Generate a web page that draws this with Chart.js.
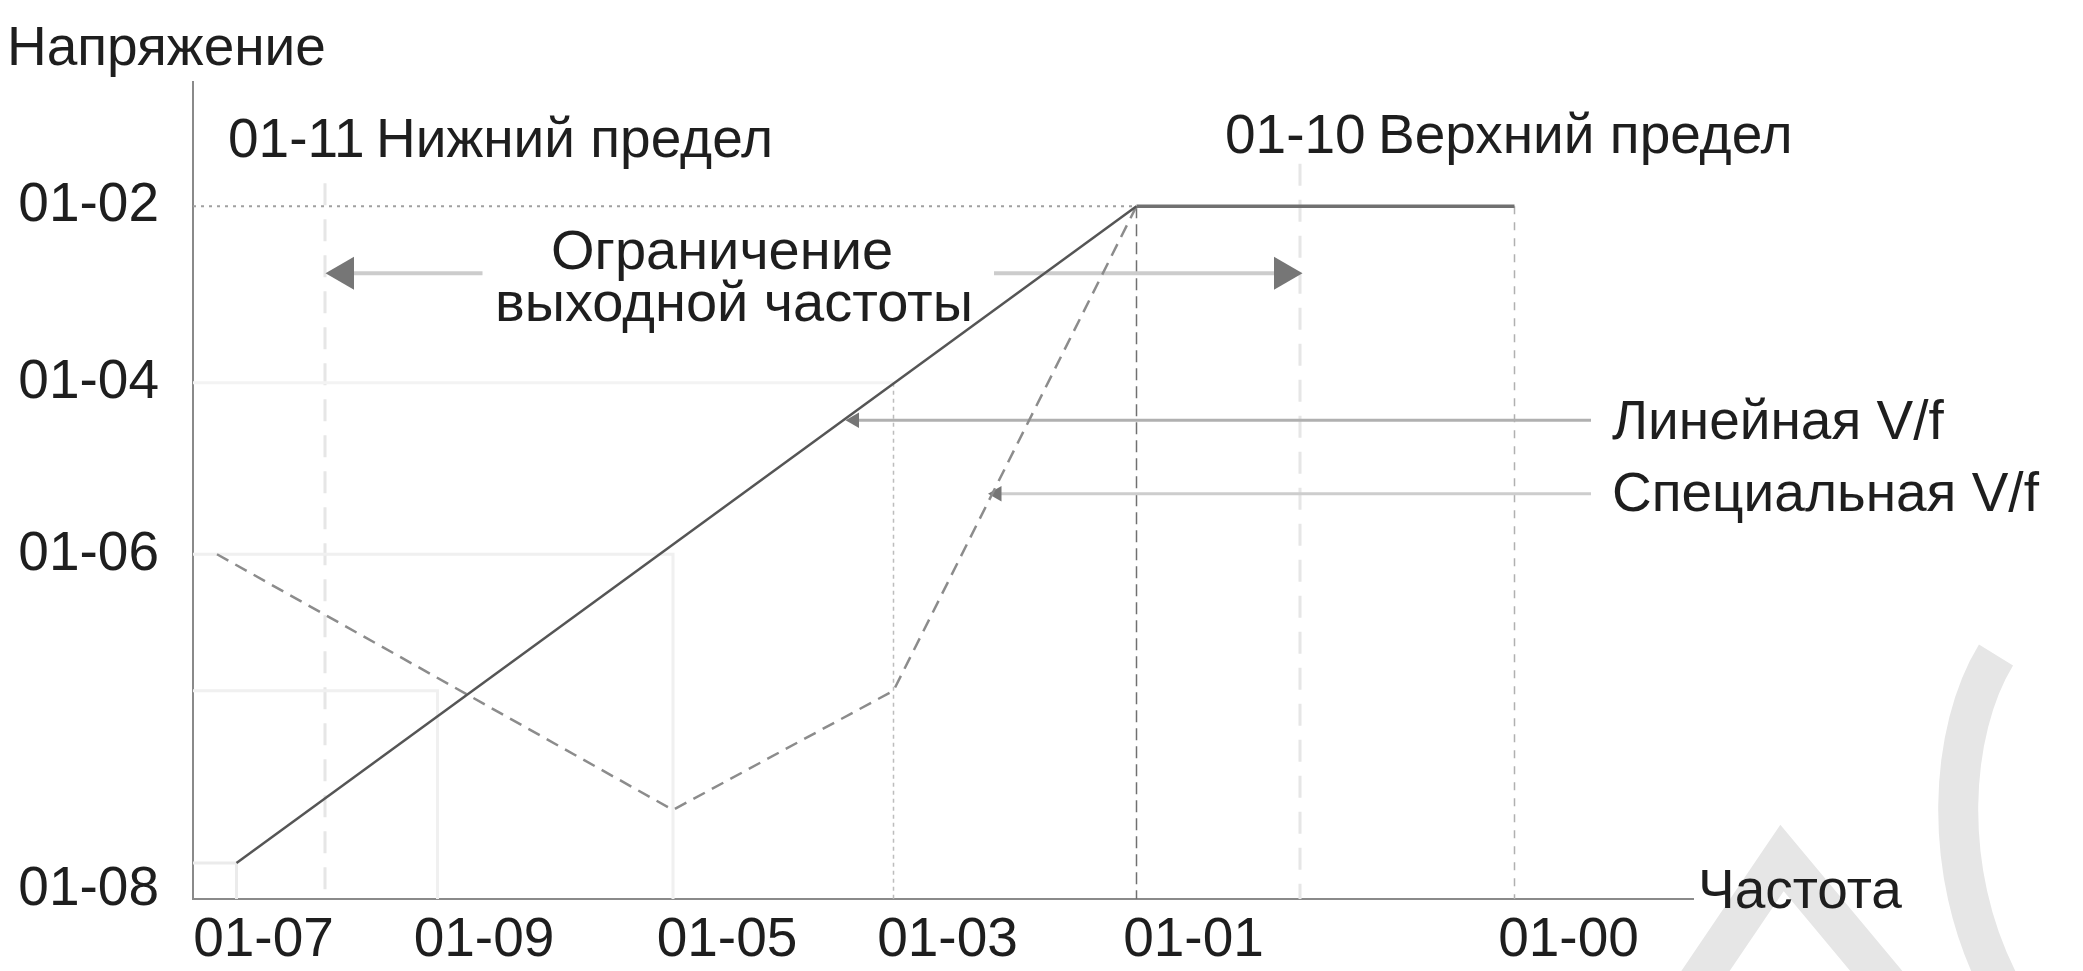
<!DOCTYPE html>
<html>
<head>
<meta charset="utf-8">
<script src="https://cdn.jsdelivr.net/npm/chart.js"></script>
<style>
  html, body { margin: 0; padding: 0; background: #fff; }
  #wrap { position: relative; width: 2083px; height: 971px; }
</style>
</head>
<body>
<div id="wrap"><canvas id="vf"></canvas></div>
<script>
const FONT = '"Liberation Sans", Arial, Helvetica, sans-serif';
const INK = '#1e1e1e';

// axis tick labels and where they sit
const xTickLabels = ['01-07', '01-09', '01-05', '01-03', '01-01', '01-00'];
const xTickAt = [4.7, 19.4, 35.6, 50.3, 66.7, 91.7];
const yTickLabels = ['01-02', '01-04', '01-06', '01-08'];
const yTickAt = [84.9, 63.2, 42.1, 1.1];

// linear V/f
const linearX = [2.9, 62.9, 88.1];
const linearY = [4.4, 84.8, 84.8];
// special V/f (dashed)
const specialX = [1.6, 32.0, 46.7, 62.9];
const specialY = [42.2, 10.9, 25.5, 84.8];

// reference lines
const g0102X = [0, 62.9],        g0102Y = [84.8, 84.8];
const g0101X = [62.9, 62.9],     g0101Y = [84.8, 0];
const g0100X = [88.1, 88.1],     g0100Y = [84.8, 0];
const g0104X = [0, 46.7],        g0104Y = [63.2, 63.2];
const g0103X = [46.7, 46.7],     g0103Y = [63.2, 0];
const g0105X = [0, 32.0, 32.0],  g0105Y = [42.2, 42.2, 0];
const g0109X = [0, 16.3, 16.3],  g0109Y = [25.5, 25.5, 0];
const g0107X = [0, 2.9, 2.9],    g0107Y = [4.4, 4.4, 0];
const g0111X = [8.8, 8.8],       g0111Y = [87.6, 0];
const g0110X = [73.8, 73.8],     g0110Y = [90.0, 0];

// arrows (tail, head)
const arrLowX = [19.3, 10.1],  arrLowY = [76.6, 76.6];
const arrHighX = [53.4, 72.7], arrHighY = [76.6, 76.6];
const arrLinX = [93.2, 44.1],  arrLinY = [58.6, 58.6];
const arrSpecX = [93.2, 53.6], arrSpecY = [49.6, 49.6];

const pts = (xs, ys) => xs.map((x, i) => ({x: x, y: ys[i]}));

function line(xs, ys, color, width, dash) {
    return {
        data: pts(xs, ys),
        showLine: true,
        borderColor: color,
        borderWidth: width,
        borderDash: dash || [],
        pointRadius: 0,
        tension: 0
    };
}

function arrow(xs, ys, lineColor, width, headSize, rot) {
    return {
        data: pts(xs, ys),
        showLine: true,
        borderColor: lineColor,
        borderWidth: width,
        pointRadius: [0, headSize],
        pointStyle: 'triangle',
        rotation: [0, rot],
        pointBackgroundColor: '#767676',
        pointBorderWidth: 0,
        tension: 0
    };
}

const linear = line(linearX, linearY, '#555555', 2.5);
// the flat part above the base frequency is drawn heavier
linear.segment = {
    borderWidth: (s) => (s.p0DataIndex === 1 ? 3.5 : 2.5),
    borderColor: (s) => (s.p0DataIndex === 1 ? '#707070' : '#555555')
};

const textPlugin = {
    id: 'texts',
    beforeDatasetsDraw(chart) {
        // faint logo watermark in the corner
        const c = chart.ctx;
        c.save();
        c.strokeStyle = '#e6e6e6';
        c.lineWidth = 40;
        c.beginPath();
        c.moveTo(1996, 655);
        c.bezierCurveTo(1950, 730, 1940, 870, 2000, 985);
        c.stroke();
        c.beginPath();
        c.moveTo(1696, 985);
        c.lineTo(1782, 858);
        c.lineTo(1888, 985);
        c.stroke();
        c.restore();
    },
    afterDraw(chart) {
        const c = chart.ctx;
        c.save();
        c.fillStyle = INK;
        c.font = '55px ' + FONT;
        c.textBaseline = 'middle';
        c.textAlign = 'left';
        c.fillText('Напряжение', 7, 50);
        c.fillText('01-11', 228, 142);
        c.fillText('Нижний предел', 376, 142);
        c.fillText('01-10', 1225, 138);
        c.fillText('Верхний предел', 1378, 138);
        c.fillText('Линейная V/f', 1612, 424);
        c.fillText('Специальная V/f', 1612, 496);
        c.fillText('Частота', 1698, 893);
        c.textAlign = 'center';
        c.font = '56px ' + FONT;
        c.fillText('Ограничение', 722, 254);
        c.fillText('выходной частоты', 734, 306);
        c.restore();
    }
};

new Chart(document.getElementById('vf'), {
    type: 'scatter',
    data: {
        datasets: [
            linear,
            line(specialX, specialY, '#8c8c8c', 2.5, [13, 8]),
            arrow(arrLinX, arrLinY, '#b0b0b0', 3, 9, -90),
            arrow(arrSpecX, arrSpecY, '#cdcdcd', 3, 9, -90),
            arrow(arrLowX, arrLowY, '#cccccc', 4, 19, -90),
            arrow(arrHighX, arrHighY, '#cccccc', 4, 19, 90),
            line(g0102X, g0102Y, '#a0a0a0', 2, [3, 5]),
            line(g0101X, g0101Y, '#707070', 1.5, [12, 6]),
            line(g0100X, g0100Y, '#b0b0b0', 1.5, [8, 8]),
            line(g0103X, g0103Y, '#bdbdbd', 1.5, [4, 4]),
            line(g0104X, g0104Y, '#f3f3f3', 3),
            line(g0105X, g0105Y, '#f0f0f0', 3),
            line(g0109X, g0109Y, '#f0f0f0', 3),
            line(g0107X, g0107Y, '#ebebeb', 3),
            line(g0111X, g0111Y, '#e6e6e6', 3, [22, 14]),
            line(g0110X, g0110Y, '#e6e6e6', 3, [22, 14])
        ]
    },
    options: {
        responsive: true,
        maintainAspectRatio: false,
        animation: false,
        events: [],
        layout: { padding: { left: 0, right: 390, top: 82, bottom: 0 } },
        plugins: {
            legend: { display: false },
            tooltip: { enabled: false }
        },
        scales: {
            x: {
                type: 'linear',
                min: 0,
                max: 100,
                afterBuildTicks: (s) => { s.ticks = xTickAt.map(v => ({value: v})); },
                afterFit: (s) => { s.height = 72; },
                grid: { display: false },
                border: { display: true, color: '#8a8a8a', width: 2 },
                ticks: {
                    autoSkip: false,
                    maxRotation: 0,
                    padding: 1,
                    color: INK,
                    font: { family: FONT, size: 55 },
                    callback: (v, i) => xTickLabels[i]
                }
            },
            y: {
                type: 'linear',
                min: 0,
                max: 100,
                afterBuildTicks: (s) => { s.ticks = yTickAt.map(v => ({value: v})); },
                afterFit: (s) => { s.width = 193; },
                grid: { display: false },
                border: { display: true, color: '#8a8a8a', width: 2 },
                ticks: {
                    autoSkip: false,
                    padding: 26,
                    color: INK,
                    font: { family: FONT, size: 55 },
                    callback: (v, i) => yTickLabels[i]
                }
            }
        }
    },
    plugins: [textPlugin]
});
</script>
</body>
</html>
